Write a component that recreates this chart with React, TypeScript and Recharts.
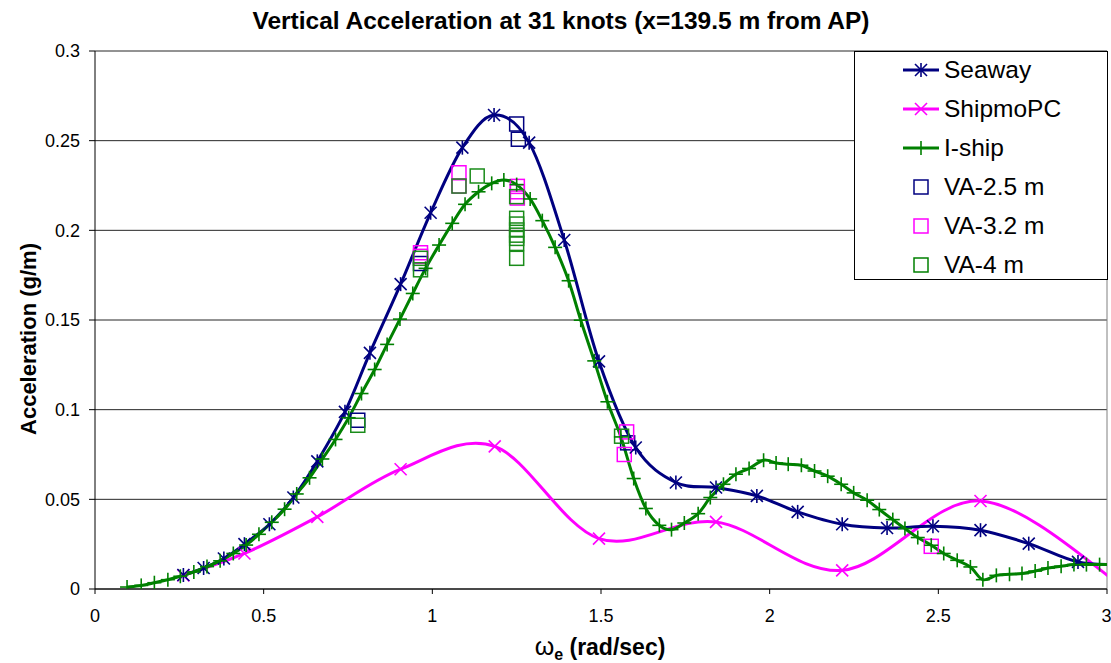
import {
  ComposedChart,
  Line,
  Scatter,
  XAxis,
  YAxis,
  CartesianGrid,
  Legend,
  ReferenceLine,
} from 'recharts'

// omega_e (rad/sec) vs vertical acceleration (g/m)
const seaway: [number, number][] = [
  [0.262, 0.0078], [0.322, 0.0117], [0.382, 0.017], [0.443, 0.025], [0.517, 0.0361],
  [0.588, 0.051], [0.659, 0.0712], [0.741, 0.0988], [0.815, 0.1317], [0.906, 0.17],
  [0.995, 0.2098], [1.089, 0.2461], [1.183, 0.2643], [1.287, 0.2489], [1.391, 0.1946],
  [1.494, 0.1269], [1.603, 0.0789], [1.722, 0.0594], [1.841, 0.0566], [1.962, 0.0519],
  [2.083, 0.043], [2.215, 0.0361], [2.348, 0.034], [2.484, 0.035], [2.625, 0.0328],
  [2.768, 0.0253], [2.914, 0.0151], [3.06, 0.0135],
]

const shipmoPC: [number, number][] = [
  [0.262, 0.0076], [0.443, 0.0198], [0.659, 0.0402], [0.906, 0.0668], [1.185, 0.0795],
  [1.494, 0.0281], [1.841, 0.0374], [2.215, 0.0104], [2.625, 0.0491], [3.05, 0.001],
]

const iShip: [number, number][] = [
  [0.095, 0.0011], [0.137, 0.002], [0.176, 0.0035], [0.216, 0.0052], [0.253, 0.0071],
  [0.293, 0.0095], [0.332, 0.0125], [0.371, 0.0157], [0.41, 0.0198], [0.448, 0.0245],
  [0.486, 0.0305], [0.524, 0.0372], [0.562, 0.0445], [0.598, 0.053], [0.636, 0.062],
  [0.674, 0.0725], [0.713, 0.0834], [0.752, 0.0955], [0.79, 0.109], [0.829, 0.1224],
  [0.866, 0.1364], [0.904, 0.1505], [0.942, 0.1648], [0.98, 0.1788], [1.02, 0.1918],
  [1.059, 0.2039], [1.097, 0.2145], [1.137, 0.2215], [1.176, 0.2262], [1.212, 0.2281],
  [1.25, 0.2255], [1.29, 0.2175], [1.326, 0.2054], [1.364, 0.1905], [1.404, 0.1719],
  [1.44, 0.1499], [1.48, 0.1272], [1.519, 0.1044], [1.559, 0.0848], [1.597, 0.0616],
  [1.633, 0.0449], [1.673, 0.0355], [1.709, 0.0331], [1.747, 0.0368], [1.788, 0.042],
  [1.824, 0.051], [1.863, 0.0584], [1.9, 0.064], [1.939, 0.0672], [1.982, 0.0718],
  [2.019, 0.0703], [2.055, 0.0696], [2.094, 0.069], [2.133, 0.0658], [2.172, 0.0629],
  [2.212, 0.0584], [2.249, 0.0536], [2.289, 0.0495], [2.325, 0.0443], [2.365, 0.0387],
  [2.401, 0.0337], [2.439, 0.0287], [2.479, 0.0244], [2.516, 0.0198], [2.556, 0.016],
  [2.595, 0.0123], [2.632, 0.0052], [2.672, 0.0076], [2.711, 0.0082], [2.748, 0.0086],
  [2.787, 0.01], [2.825, 0.0117], [2.864, 0.0127], [2.902, 0.0136], [2.939, 0.0136],
  [2.978, 0.0136], [3.017, 0.0136],
]

// measured points
const va25: [number, number][] = [
  [0.779, 0.0941], [0.965, 0.1815], [1.25, 0.2593], [1.255, 0.2508], [1.579, 0.0815],
]
const va32: [number, number][] = [
  [0.965, 0.1875], [0.965, 0.1855], [1.079, 0.2321], [1.079, 0.2247], [1.252, 0.2245],
  [1.252, 0.2215], [1.252, 0.218], [1.576, 0.0876], [1.569, 0.075], [2.479, 0.0238],
]
const va4: [number, number][] = [
  [0.779, 0.0913], [0.965, 0.1844], [0.965, 0.178], [1.079, 0.2247], [1.133, 0.2303],
  [1.25, 0.2188], [1.25, 0.2067], [1.25, 0.2035], [1.25, 0.2002], [1.25, 0.1973],
  [1.25, 0.1955], [1.25, 0.1927], [1.25, 0.1844], [1.561, 0.0852],
]

const xTicks = [0, 0.5, 1, 1.5, 2, 2.5, 3]
const yTicks = [0, 0.05, 0.1, 0.15, 0.2, 0.25, 0.3]

const NAVY = '#000080'
const MAGENTA = '#FF00FF'
const GREEN = '#008000'
const FONT = "'Liberation Sans', Arial, sans-serif"

const toRows = (pts: [number, number][]) => pts.map(([x, y]) => ({ x, y }))

// Excel style smoothed line (catmull-rom through every point)
class ExcelSmooth {
  ctx: any
  pts: number[][] = []
  constructor(ctx: any) {
    this.ctx = ctx
  }
  areaStart() {}
  areaEnd() {}
  lineStart() {
    this.pts = []
  }
  point(x: number, y: number) {
    this.pts.push([+x, +y])
  }
  lineEnd() {
    const p = this.pts
    const n = p.length
    if (!n) return
    this.ctx.moveTo(p[0][0], p[0][1])
    for (let i = 0; i < n - 1; i++) {
      const a = p[Math.max(i - 1, 0)]
      const b = p[i]
      const c = p[i + 1]
      const d = p[Math.min(i + 2, n - 1)]
      this.ctx.bezierCurveTo(
        b[0] + (c[0] - a[0]) / 6,
        b[1] + (c[1] - a[1]) / 6,
        c[0] - (d[0] - b[0]) / 6,
        c[1] - (d[1] - b[1]) / 6,
        c[0],
        c[1],
      )
    }
  }
}
const excelSmooth: any = (ctx: any) => new ExcelSmooth(ctx)

const Marker = ({ cx, cy, kind, color }: any) => {
  if (cx == null || cy == null) return null
  const s = 6
  if (kind === 'square')
    return <rect x={cx - 7} y={cy - 7} width={14} height={14} fill="none" stroke={color} strokeWidth={1.5} />
  return (
    <g stroke={color} strokeWidth={1.6}>
      {kind !== 'plus' && (
        <>
          <line x1={cx - s} y1={cy - s} x2={cx + s} y2={cy + s} />
          <line x1={cx - s} y1={cy + s} x2={cx + s} y2={cy - s} />
        </>
      )}
      {kind !== 'cross' && <line x1={cx} y1={cy - 7} x2={cx} y2={cy + 7} />}
      {kind === 'plus' && <line x1={cx - 7} y1={cy} x2={cx + 7} y2={cy} />}
    </g>
  )
}

const legendItems = [
  { name: 'Seaway', color: NAVY, kind: 'star', line: true },
  { name: 'ShipmoPC', color: MAGENTA, kind: 'cross', line: true },
  { name: 'I-ship', color: GREEN, kind: 'plus', line: true },
  { name: 'VA-2.5 m', color: NAVY, kind: 'square', line: false },
  { name: 'VA-3.2 m', color: MAGENTA, kind: 'square', line: false },
  { name: 'VA-4 m', color: GREEN, kind: 'square', line: false },
]

const LegendBox = () => (
  <svg width={254} height={229} style={{ display: 'block' }}>
    <rect x={0.5} y={0.5} width={253} height={228} fill="#fff" stroke="#000" />
    {legendItems.map((it, i) => {
      const cy = 19 + i * 39
      return (
        <g key={it.name}>
          {it.line && <line x1={49} x2={85} y1={cy} y2={cy} stroke={it.color} strokeWidth={3} />}
          <Marker cx={67} cy={cy} kind={it.kind} color={it.color} />
          <text x={90} y={cy + 8} fontSize={24.5} fill="#000" fontFamily={FONT}>
            {it.name}
          </text>
        </g>
      )
    })}
  </svg>
)

const YLabel = () => (
  <text x={36} y={339} transform="rotate(-90 36 339)" textAnchor="middle" fontSize={22} fontWeight="bold" fill="#000">
    Acceleration (g/m)
  </text>
)

const XLabel = () => (
  <text x={600} y={655} textAnchor="middle" fontSize={23} fontWeight="bold" fill="#000">
    <tspan fontWeight="normal" fontSize={25}>ω</tspan>
    <tspan fontSize={16} dy={5}>e</tspan>
    <tspan dy={-5}> (rad/sec)</tspan>
  </text>
)

export default function App() {
  const tick = { fontSize: 18, fill: '#000' }
  return (
    <div style={{ position: 'absolute', left: 0, top: 0, width: 1111, height: 663, background: '#fff', fontFamily: FONT }}>
      <div
        style={{
          position: 'absolute',
          left: 0,
          width: 1122,
          top: 9,
          textAlign: 'center',
          fontSize: 24.5,
          lineHeight: '24px',
          fontWeight: 'bold',
          zIndex: 2,
        }}
      >
        Vertical Acceleration at 31 knots (x=139.5 m from AP)
      </div>
      <ComposedChart width={1111} height={663} margin={{ top: 51, right: 4, bottom: 0, left: 0 }}>
        <CartesianGrid vertical={false} stroke="#000" strokeOpacity={0.85} />
        <XAxis
          type="number"
          dataKey="x"
          domain={[0, 3]}
          ticks={xTicks}
          allowDataOverflow
          height={74}
          tick={tick}
          tickSize={5}
          tickMargin={15}
          stroke="#000"
          label={{ content: () => <XLabel /> }}
        />
        <YAxis
          type="number"
          dataKey="y"
          domain={[0, 0.3]}
          ticks={yTicks}
          allowDataOverflow
          width={95}
          tick={tick}
          tickSize={6}
          tickMargin={9}
          stroke="#000"
          label={{ content: () => <YLabel /> }}
        />
        <ReferenceLine x={3} stroke="#808080" />
        <Line
          data={toRows(shipmoPC)}
          dataKey="y"
          type={excelSmooth}
          stroke={MAGENTA}
          strokeWidth={3}
          dot={(p: any) => <Marker key={'s' + p.index} cx={p.cx} cy={p.cy} kind="cross" color={MAGENTA} />}
          isAnimationActive={false}
        />
        <Line
          data={toRows(seaway)}
          dataKey="y"
          type={excelSmooth}
          stroke={NAVY}
          strokeWidth={3}
          dot={(p: any) => <Marker key={'w' + p.index} cx={p.cx} cy={p.cy} kind="star" color={NAVY} />}
          isAnimationActive={false}
        />
        <Line
          data={toRows(iShip)}
          dataKey="y"
          type={excelSmooth}
          stroke={GREEN}
          strokeWidth={3}
          dot={(p: any) => <Marker key={'i' + p.index} cx={p.cx} cy={p.cy} kind="plus" color={GREEN} />}
          isAnimationActive={false}
        />
        <Scatter
          data={toRows(va25)}
          dataKey="y"
          shape={(p: any) => <Marker cx={p.cx} cy={p.cy} kind="square" color={NAVY} />}
          isAnimationActive={false}
        />
        <Scatter
          data={toRows(va32)}
          dataKey="y"
          shape={(p: any) => <Marker cx={p.cx} cy={p.cy} kind="square" color={MAGENTA} />}
          isAnimationActive={false}
        />
        <Scatter
          data={toRows(va4)}
          dataKey="y"
          shape={(p: any) => <Marker cx={p.cx} cy={p.cy} kind="square" color="#1a8c1a" />}
          isAnimationActive={false}
        />
        <Legend
          layout="horizontal"
          verticalAlign="middle"
          align="center"
          content={() => <LegendBox />}
          wrapperStyle={{ position: 'absolute', left: 854, top: 51, width: 254, height: 229 }}
        />
      </ComposedChart>
    </div>
  )
}
